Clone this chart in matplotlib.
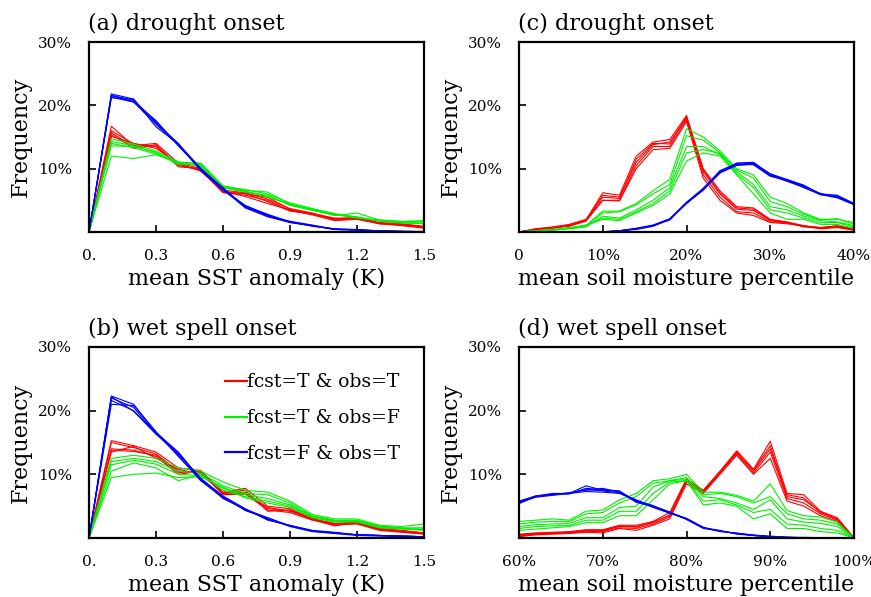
import matplotlib
matplotlib.use("Agg")
import matplotlib.pyplot as plt

plt.rcParams['font.family'] = ['DejaVu Serif']

# x axes
sst_x = [0.0, 0.1, 0.2, 0.3, 0.4, 0.5, 0.6, 0.7, 0.8, 0.9, 1.0, 1.1, 1.2, 1.3, 1.4, 1.5]
sm_dry_x = list(range(0, 41, 2))
sm_wet_x = list(range(60, 101, 2))

# (a) drought onset, SST
a_red = [
    [0, 16.7, 13.6, 14.0, 10.9, 10.0, 6.4, 6.0, 5.5, 3.6, 2.9, 2.1, 2.2, 1.4, 1.2, 0.8],
    [0, 16.0, 13.9, 13.5, 10.6, 9.8, 6.2, 5.8, 5.0, 3.4, 2.7, 1.8, 2.0, 1.3, 1.1, 0.7],
    [0, 15.4, 13.2, 13.8, 10.3, 10.0, 6.6, 6.2, 5.2, 3.7, 3.0, 2.0, 2.3, 1.5, 1.3, 0.9],
    [0, 15.1, 14.0, 13.2, 10.8, 9.6, 6.5, 5.6, 4.5, 3.5, 2.8, 1.9, 2.1, 1.4, 1.2, 0.8],
    [0, 15.7, 13.4, 13.6, 10.5, 9.9, 6.3, 6.1, 4.8, 3.3, 2.9, 2.2, 2.2, 1.3, 1.0, 0.6],
]
a_green = [
    [0, 14.7, 13.9, 12.8, 11.0, 10.9, 7.3, 6.6, 6.3, 4.4, 3.6, 2.8, 2.2, 1.8, 1.5, 1.4],
    [0, 14.3, 13.6, 12.5, 10.8, 10.6, 7.1, 6.4, 5.6, 4.3, 3.5, 2.6, 3.0, 1.9, 1.6, 1.8],
    [0, 14.0, 13.3, 12.3, 11.1, 10.3, 7.2, 6.7, 6.0, 4.6, 3.7, 2.9, 2.4, 1.7, 1.4, 1.3],
    [0, 13.6, 13.5, 12.6, 10.6, 10.8, 7.0, 6.3, 5.8, 4.2, 3.4, 2.7, 2.3, 1.8, 1.6, 1.6],
    [0, 12.0, 11.6, 12.2, 10.9, 10.5, 7.2, 6.5, 5.5, 4.4, 3.5, 2.8, 2.3, 1.9, 1.7, 1.7],
]
a_blue = [
    [0, 21.6, 20.8, 17.4, 13.8, 9.9, 6.9, 4.0, 2.6, 1.6, 1.0, 0.4, 0.35, 0.15, 0.1, 0.05],
    [0, 21.3, 20.5, 17.0, 13.7, 9.8, 6.7, 3.8, 2.4, 1.5, 1.0, 0.4, 0.3, 0.2, 0.1, 0.05],
    [0, 21.8, 21.0, 16.6, 13.9, 10.1, 6.8, 4.1, 2.8, 1.6, 0.9, 0.5, 0.4, 0.15, 0.1, 0.1],
    [0, 21.5, 20.6, 17.6, 13.6, 10.0, 7.0, 3.9, 2.5, 1.7, 1.1, 0.4, 0.35, 0.2, 0.05, 0.05],
    [0, 21.2, 20.9, 17.2, 14.0, 9.7, 6.6, 4.2, 2.7, 1.5, 1.0, 0.5, 0.3, 0.1, 0.1, 0.05],
]

# (b) wet spell onset, SST
b_red = [
    [0, 15.3, 14.5, 13.5, 11.0, 10.6, 7.2, 7.8, 5.0, 4.6, 3.0, 2.3, 2.5, 1.3, 1.0, 0.7],
    [0, 15.0, 14.2, 13.2, 10.5, 10.3, 7.0, 7.2, 4.6, 4.3, 3.1, 2.0, 2.3, 1.4, 1.1, 0.8],
    [0, 14.0, 13.8, 12.8, 10.0, 10.5, 6.8, 6.9, 4.4, 4.0, 2.8, 2.1, 2.2, 1.2, 0.9, 0.6],
    [0, 13.5, 14.4, 12.5, 10.8, 10.0, 7.1, 7.5, 4.2, 4.4, 3.0, 2.2, 2.4, 1.3, 1.0, 0.7],
    [0, 13.8, 13.6, 13.0, 10.3, 10.4, 6.9, 7.0, 4.8, 4.2, 2.9, 1.9, 2.5, 1.5, 1.2, 0.8],
]
b_green = [
    [0, 12.5, 13.0, 12.5, 11.0, 10.5, 8.8, 7.5, 7.2, 5.8, 3.7, 3.0, 3.0, 2.0, 1.8, 2.2],
    [0, 12.0, 12.5, 12.0, 10.5, 10.2, 8.2, 7.0, 6.8, 5.5, 3.5, 2.8, 2.8, 1.9, 1.6, 1.6],
    [0, 11.5, 12.2, 11.6, 10.0, 9.8, 7.8, 6.8, 6.2, 5.2, 3.4, 2.7, 2.7, 1.8, 1.5, 1.3],
    [0, 10.5, 11.8, 11.0, 9.0, 10.0, 7.5, 6.5, 5.8, 5.0, 3.3, 2.6, 2.6, 1.7, 1.5, 1.4],
    [0, 9.5, 10.0, 10.2, 9.5, 9.6, 8.0, 6.3, 5.5, 4.8, 3.2, 2.5, 2.5, 1.6, 1.4, 1.2],
]
b_blue = [
    [0, 22.3, 21.0, 16.6, 13.5, 9.2, 6.4, 4.5, 3.2, 1.9, 1.1, 0.8, 0.5, 0.4, 0.3, 0.2],
    [0, 22.0, 20.5, 16.4, 13.0, 9.0, 6.3, 4.4, 3.0, 1.9, 1.1, 0.8, 0.5, 0.4, 0.3, 0.2],
    [0, 21.6, 20.0, 16.5, 13.2, 9.4, 6.6, 4.6, 2.8, 2.0, 1.2, 0.9, 0.5, 0.4, 0.3, 0.2],
    [0, 21.0, 20.8, 16.7, 12.8, 9.1, 6.5, 4.3, 3.1, 1.8, 1.0, 0.7, 0.4, 0.3, 0.3, 0.2],
    [0, 22.2, 19.9, 16.3, 13.4, 9.3, 6.2, 4.5, 2.9, 1.9, 1.1, 0.8, 0.5, 0.4, 0.2, 0.1],
]

# (c) drought onset, soil moisture
c_red = [
    [0, 0.5, 0.7, 1.0, 1.9, 6.2, 5.8, 12.0, 14.2, 14.6, 18.4, 10.0, 6.5, 4.0, 3.8, 2.0, 1.6, 1.0, 0.7, 1.0, 0.5],
    [0, 0.4, 0.6, 1.1, 1.8, 5.8, 5.5, 11.0, 13.8, 14.2, 18.0, 9.5, 6.0, 3.6, 3.4, 1.8, 1.4, 0.9, 0.6, 0.8, 0.3],
    [0, 0.5, 0.8, 1.2, 2.0, 5.0, 5.0, 10.5, 13.5, 13.5, 17.8, 9.0, 5.5, 3.2, 3.0, 1.6, 1.5, 0.8, 0.6, 0.9, 0.4],
    [0, 0.3, 0.7, 0.9, 1.7, 5.0, 4.9, 10.0, 13.0, 13.2, 17.4, 8.5, 5.0, 3.0, 2.6, 1.5, 1.3, 1.0, 0.5, 0.7, 0.3],
    [0, 0.4, 0.6, 1.0, 1.9, 5.5, 5.3, 11.5, 14.0, 13.9, 18.2, 9.8, 6.2, 3.8, 3.6, 1.9, 1.5, 0.9, 0.7, 0.9, 0.4],
]
c_green = [
    [0, 0.2, 0.4, 0.6, 1.0, 3.3, 3.3, 4.5, 6.5, 8.3, 16.3, 15.0, 12.8, 10.0, 9.0, 5.5, 4.5, 3.0, 2.0, 2.0, 1.5],
    [0, 0.2, 0.3, 0.6, 0.9, 3.0, 3.2, 4.3, 6.0, 7.5, 15.2, 14.5, 12.5, 9.8, 8.5, 4.8, 4.0, 2.8, 1.9, 2.1, 1.2],
    [0, 0.1, 0.3, 0.5, 0.8, 2.5, 2.2, 3.5, 5.0, 7.0, 13.5, 13.5, 12.2, 9.5, 7.5, 4.0, 3.5, 2.5, 1.8, 1.6, 1.0],
    [0, 0.2, 0.3, 0.6, 1.0, 2.2, 2.0, 3.2, 4.5, 6.5, 12.5, 13.0, 12.4, 9.2, 7.0, 3.5, 3.0, 2.2, 1.5, 1.5, 0.8],
    [0, 0.2, 0.4, 0.7, 1.1, 2.0, 1.8, 3.0, 4.2, 6.0, 11.2, 12.5, 12.0, 9.0, 6.0, 3.0, 2.0, 2.0, 1.2, 1.2, 0.6],
]
c_blue = [
    [0, 0, 0, 0, 0, 0, 0.2, 0.5, 1.0, 2.0, 4.6, 6.8, 9.6, 10.7, 10.9, 9.2, 8.3, 7.4, 6.0, 5.8, 4.5],
    [0, 0, 0, 0, 0, 0, 0.2, 0.5, 1.0, 2.0, 4.5, 6.6, 9.4, 10.5, 10.7, 9.0, 8.2, 7.2, 6.0, 5.6, 4.4],
    [0, 0, 0, 0, 0, 0.05, 0.2, 0.6, 1.1, 2.1, 4.7, 6.9, 9.5, 10.9, 11.0, 9.1, 8.1, 7.0, 5.9, 5.4, 4.3],
    [0, 0, 0, 0, 0, 0, 0.15, 0.5, 1.0, 1.9, 4.6, 6.7, 9.3, 10.6, 10.8, 8.9, 8.0, 7.1, 6.1, 5.5, 4.4],
    [0, 0, 0, 0, 0, 0, 0.2, 0.4, 0.9, 2.0, 4.5, 6.8, 9.7, 10.8, 10.6, 8.8, 8.2, 7.3, 5.9, 5.7, 4.5],
]

# (d) wet spell onset, soil moisture
d_red = [
    [0.6, 0.8, 0.9, 1.0, 1.3, 1.3, 2.0, 2.0, 2.6, 4.0, 9.3, 7.5, 10.5, 13.7, 10.8, 15.2, 7.0, 6.8, 4.2, 3.2, 0],
    [0.4, 0.7, 0.8, 0.9, 1.1, 1.1, 1.8, 1.8, 2.4, 3.6, 9.0, 7.3, 10.3, 13.5, 10.5, 14.0, 6.8, 6.3, 4.0, 3.0, 0],
    [0.3, 0.6, 0.7, 0.8, 1.0, 1.0, 1.6, 1.5, 2.2, 3.3, 8.8, 7.1, 10.2, 13.2, 10.2, 13.5, 6.2, 5.5, 3.8, 2.8, 0],
    [0.2, 0.5, 0.6, 0.7, 0.9, 0.8, 1.5, 1.2, 2.0, 3.0, 8.5, 7.0, 10.0, 13.0, 10.0, 12.5, 5.8, 5.0, 3.5, 2.6, 0],
    [0.5, 0.7, 0.8, 0.9, 1.2, 1.2, 1.9, 1.7, 2.5, 3.5, 9.1, 7.4, 10.4, 13.4, 10.7, 14.5, 6.5, 6.0, 4.1, 2.9, 0],
]
d_green = [
    [2.6, 2.8, 3.0, 2.8, 4.2, 4.4, 6.0, 7.0, 9.0, 9.3, 10.0, 7.2, 7.2, 6.7, 5.8, 8.5, 4.3, 3.5, 3.3, 2.5, 0],
    [2.2, 2.5, 2.6, 2.6, 3.8, 4.0, 5.5, 6.5, 8.6, 9.0, 9.5, 6.8, 7.0, 6.5, 5.5, 6.5, 3.8, 3.0, 2.8, 2.2, 0],
    [1.8, 2.1, 2.2, 2.3, 3.2, 3.2, 4.8, 5.0, 8.0, 9.0, 9.2, 6.5, 6.2, 5.5, 4.5, 6.0, 3.0, 2.5, 2.3, 1.8, 0],
    [1.5, 1.8, 1.9, 2.0, 2.8, 2.8, 4.2, 4.2, 7.0, 8.8, 9.0, 5.8, 6.0, 5.2, 4.0, 4.5, 2.2, 2.0, 1.5, 1.2, 0],
    [1.2, 1.4, 1.6, 1.8, 2.4, 2.4, 3.5, 3.5, 6.0, 8.5, 9.0, 5.2, 5.5, 5.0, 3.0, 3.8, 1.5, 1.5, 1.0, 0.8, 0],
]
d_blue = [
    [5.7, 6.6, 7.0, 7.0, 8.2, 7.5, 7.3, 5.8, 5.0, 4.0, 3.0, 1.6, 1.1, 0.7, 0.4, 0.2, 0.1, 0.05, 0.05, 0, 0],
    [5.5, 6.5, 6.8, 7.1, 7.5, 7.8, 7.2, 5.6, 4.9, 3.9, 3.0, 1.6, 1.1, 0.7, 0.4, 0.2, 0.1, 0.05, 0.05, 0, 0],
    [5.6, 6.4, 6.7, 7.0, 7.3, 7.2, 7.0, 5.9, 5.1, 4.0, 3.1, 1.7, 1.0, 0.8, 0.4, 0.3, 0.1, 0.05, 0, 0, 0],
    [5.4, 6.5, 6.9, 6.9, 7.8, 7.6, 7.4, 5.7, 5.0, 4.1, 2.9, 1.5, 1.1, 0.7, 0.5, 0.2, 0.1, 0.1, 0.05, 0, 0],
    [5.8, 6.6, 6.8, 7.1, 7.6, 7.4, 7.1, 6.0, 4.8, 3.9, 3.0, 1.6, 1.2, 0.6, 0.4, 0.2, 0.1, 0.05, 0.05, 0, 0],
]

labels = ['fcst=T & obs=T', 'fcst=T & obs=F', 'fcst=F & obs=T']
colors = ['#ff0000', '#00f000', '#0000ff']

sst_ticks = [0, 0.3, 0.6, 0.9, 1.2, 1.5]
sst_ticklabels = ['0.', '0.3', '0.6', '0.9', '1.2', '1.5']
dry_ticks = [0, 10, 20, 30, 40]
dry_ticklabels = ['0', '10%', '20%', '30%', '40%']
wet_ticks = [60, 70, 80, 90, 100]
wet_ticklabels = ['60%', '70%', '80%', '90%', '100%']

W, H = 871, 597
fig = plt.figure(figsize=(W / 100, H / 100), dpi=100)


def px_axes(l, t, r, b):
    return fig.add_axes([l / W, (H - b) / H, (r - l) / W, (b - t) / H])


panels = [
    # box, title, x, groups, xlim, ticks, ticklabels, xlabel
    ((89, 42, 424, 232), '(a) drought onset', sst_x, (a_red, a_green, a_blue),
     (0, 1.5), sst_ticks, sst_ticklabels, 'mean SST anomaly (K)'),
    ((519, 42, 854, 232), '(c) drought onset', sm_dry_x, (c_red, c_green, c_blue),
     (0, 40), dry_ticks, dry_ticklabels, 'mean soil moisture percentile'),
    ((89, 347, 424, 538), '(b) wet spell onset', sst_x, (b_red, b_green, b_blue),
     (0, 1.5), sst_ticks, sst_ticklabels, 'mean SST anomaly (K)'),
    ((519, 347, 854, 538), '(d) wet spell onset', sm_wet_x, (d_red, d_green, d_blue),
     (60, 100), wet_ticks, wet_ticklabels, 'mean soil moisture percentile'),
]

for box, title, x, groups, xlim, ticks, ticklabels, xlabel in panels:
    ax = px_axes(*box)
    for gi, members in enumerate(groups):
        for mi, vals in enumerate(members):
            ax.plot(x, vals, color=colors[gi], lw=0.8,
                    label=labels[gi] if mi == 0 else None)
    ax.set_xlim(*xlim)
    ax.set_ylim(0, 30)
    ax.set_xticks(ticks)
    ax.set_xticklabels(ticklabels)
    ax.set_yticks([10, 20, 30])
    ax.set_yticklabels(['10%', '20%', '30%'])
    ax.tick_params(direction='in', length=5, width=1.2, labelsize=11, pad=12)
    for s in ax.spines.values():
        s.set_linewidth(1.6)
    ax.set_xlabel(xlabel, fontsize=16, labelpad=3.5)
    ax.set_ylabel('Frequency', fontsize=16, labelpad=5)
    ax.text(-0.003, 1.035, title, transform=ax.transAxes, ha='left', va='bottom', fontsize=16)
    if title.startswith('(b)'):
        ax.legend(loc='upper right', frameon=False, fontsize=13.5, handlelength=1.2,
                  handletextpad=0.0, labelspacing=0.95, borderaxespad=0.7,
                  bbox_to_anchor=(0.99, 0.97))
        for line in ax.get_legend().get_lines():
            line.set_linewidth(1.6)

fig.savefig('out.png', dpi=100)
